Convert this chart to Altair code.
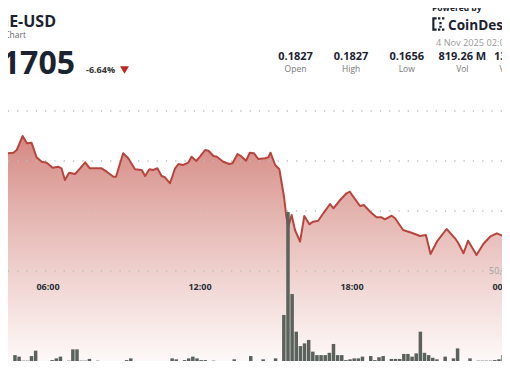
import altair as alt
import pandas as pd

# ---------------- data ----------------
price_times = ["04:06","04:13","04:22","04:38","04:46","05:00","05:10","05:21","05:33","05:45",
               "05:57","06:11","06:24","06:32","06:40","06:50","07:04","07:16","07:28","07:39",
               "08:07","08:19","08:35","08:41","08:58","09:10","09:26","09:42","09:50","10:00",
               "10:09","10:19","10:29","10:37","10:49","11:01","11:09","11:20","11:32","11:40",
               "11:51","12:00","12:12","12:20","12:32","12:40","12:55","13:09","13:17","13:29",
               "13:39","13:49","13:58","14:08","14:18","14:34","14:42","14:47","14:58","15:08",
               "15:13","15:19","15:24","15:29","15:37","15:45","15:57","16:07","16:13","16:19",
               "16:28","16:40","16:52","17:08","17:16","17:32","17:47","17:55","18:03","18:19",
               "18:28","18:43","18:58","19:10","19:18","19:34","19:42","20:01","20:21","20:41",
               "20:55","21:06","21:21","21:44","22:04","22:12","22:24","22:35","22:55","23:11",
               "23:27","23:43","23:58","00:10","00:19"]
price_values = [0.17493,0.17493,0.17577,0.17583,0.17610,0.17750,0.17677,0.17683,0.17537,0.17493,
                0.17483,0.17433,0.17443,0.17427,0.17310,0.17383,0.17370,0.17427,0.17487,0.17427,
                0.17427,0.17393,0.17343,0.17343,0.17577,0.17527,0.17417,0.17410,0.17350,0.17417,
                0.17410,0.17427,0.17350,0.17337,0.17277,0.17427,0.17470,0.17460,0.17483,0.17543,
                0.17500,0.17543,0.17610,0.17603,0.17550,0.17543,0.17493,0.17470,0.17477,0.17570,
                0.17543,0.17503,0.17583,0.17577,0.17520,0.17527,0.17537,0.17583,0.17460,0.17417,
                0.17290,0.17140,0.16960,0.16840,0.16960,0.16810,0.16693,0.16950,0.16910,0.16867,
                0.16893,0.16903,0.16977,0.17070,0.17027,0.17110,0.17177,0.17193,0.17143,0.17050,
                0.17060,0.16993,0.16937,0.16937,0.16917,0.16953,0.16927,0.16810,0.16783,0.16750,
                0.16760,0.16570,0.16693,0.16820,0.16727,0.16677,0.16577,0.16703,0.16560,0.16670,
                0.16743,0.16777,0.16750,0.16660,0.16610]

vol_first_bar = "04:30"     # first visible 10-minute volume bar
vol_step_minutes = 10
volumes_m = [6.2,5.4,3.3,3.3,5.7,8.5,2.8,2.8,2.4,3.6,
             4.5,5.4,2.2,3.3,9.2,9.2,3.3,3.3,4.2,2.8,
             3.3,1.9,1.4,1.4,1.4,1.4,3.1,3.6,4.5,2.8,
             2.4,1.4,1.0,1.6,1.6,2.2,2.4,2.8,4.5,4.0,
             1.9,3.6,4.5,5.4,4.5,3.6,3.6,1.9,3.3,1.9,
             2.2,1.9,2.2,4.0,3.1,2.8,2.6,5.7,2.8,2.8,
             4.0,2.8,2.8,4.5,2.8,27.1,80.7,38.0,18.4,10.9,
             12.3,14.1,8.0,6.2,6.2,6.2,7.4,12.0,6.2,6.2,
             3.6,4.0,4.5,4.5,5.4,2.8,5.7,3.6,5.1,5.7,
             3.1,4.2,4.2,4.2,6.8,6.8,5.4,7.1,18.4,7.4,
             6.2,4.8,4.0,2.8,5.4,2.8,4.5,9.7,1.9,1.9,
             4.5,3.1,3.3,3.3,3.3,3.3,3.6,4.0,6.2]

price_grid = [0.170, 0.175, 0.180]
vol_grid_m = [50]
vol_grid_labels = ["50,000,000"]
axis_times = ["06:00", "12:00", "18:00", "00:00"]

symbol_name = "DOGE-USD"
subtitle = "24 Hour Chart"
last_price = "0.1705"
change_pct = "-6.64%"
stat_values = ["0.1827", "0.1827", "0.1656", "819.26 M", "139.53 M"]
stat_labels = ["Open", "High", "Low", "Vol", "Vol (USD)"]
powered_by = "Powered by"
brand = "CoinDesk Indices"
timestamp = "4 Nov 2025 02:00 UTC"

# ---------------- helpers ----------------
def to_hours(s):
    h, m = map(int, s.split(":"))
    v = h + m / 60
    return v + 24 if v < 4 else v

W, H = 494, 353
FONT = "Open Sans"
DARK = "#1b2331"

price_df = pd.DataFrame({"t": [to_hours(s) for s in price_times], "p": price_values})
vol_df = pd.DataFrame({
    "t": [to_hours(vol_first_bar) + i * vol_step_minutes / 60 for i in range(len(volumes_m))],
    "v": volumes_m,
})
axis_df = pd.DataFrame({"t": [to_hours(s) for s in axis_times], "label": axis_times})
pgrid_df = pd.DataFrame({"p": price_grid})
vgrid_df = pd.DataFrame({"v": vol_grid_m, "label": vol_grid_labels})
stats_df = pd.DataFrame({"value": stat_values, "label": stat_labels})
stats_df["px"] = [287.5 + i * 55.6 for i in range(len(stats_df))]

# white fade bands (styling only): vertical fade of the area fill
FADE_TOP, FADE_BOTTOM, STEP = 128, 360, 2
fade_rows = []
for y0 in range(FADE_TOP, FADE_BOTTOM, STEP):
    frac = (y0 + STEP / 2 - FADE_TOP) / (FADE_BOTTOM - FADE_TOP)
    fade_rows.append({"y0": y0, "y1": y0 + STEP, "o": min(0.97, 0.97 * frac ** 0.85)})
fade_df = pd.DataFrame(fade_rows)

x_scale = alt.Scale(domain=[4.4211, 23.9211], range=[0, W], nice=False, zero=False)
p_scale = alt.Scale(domain=[0.170, 0.180], range=[203, 103], nice=False, zero=False)
v_scale = alt.Scale(domain=[0, 50], range=[359, 263], nice=False)

X = lambda f: alt.X(f, type="quantitative", scale=x_scale, axis=None)
YP = lambda f: alt.Y(f, type="quantitative", scale=p_scale, axis=None)
YV = lambda f: alt.Y(f, type="quantitative", scale=v_scale, axis=None)

area = alt.Chart(price_df).mark_area(clip=True, color="#d4867f", opacity=1).encode(
    x=X("t"), y=YP("p"), y2=alt.value(359))

fade = alt.Chart(fade_df).mark_rect(color="white", clip=True, strokeWidth=0).encode(
    x=alt.value(0), x2=alt.value(W),
    y=alt.Y("y0:Q", scale=None, axis=None), y2="y1:Q",
    opacity=alt.Opacity("o:Q", scale=None, legend=None))

pgrid = alt.Chart(pgrid_df).mark_rule(
    color="#bdbdbd", strokeDash=[1.3, 8], strokeWidth=1.3, clip=True).encode(y=YP("p"))
vgrid = alt.Chart(vgrid_df).mark_rule(
    color="#bdbdbd", strokeDash=[1.3, 8], strokeWidth=1.3, clip=True).encode(y=YV("v"))
vgrid_label = alt.Chart(vgrid_df).mark_text(
    align="left", baseline="middle", font=FONT, fontSize=9, color="#a3a3a3", clip=True
).encode(x=alt.value(481), y=YV("v"), text="label:N")

line = alt.Chart(price_df).mark_line(
    clip=True, color="#b8453d", strokeWidth=2, strokeJoin="round").encode(x=X("t"), y=YP("p"))

bars = alt.Chart(vol_df).mark_bar(size=3.5, color="#59625b", clip=True).encode(
    x=X("t"), y=YV("v"))

xlabels = alt.Chart(axis_df).mark_text(
    font=FONT, fontSize=9, fontWeight="bold", color="#2a2f38", baseline="middle", clip=True
).encode(x=X("t"), y=alt.value(279), text="label:N")

def txt(s, x, y, size, color=DARK, weight="normal", align="left"):
    return alt.Chart(pd.DataFrame({"s": [s]})).mark_text(
        font=FONT, fontSize=size, fontWeight=weight, color=color, align=align,
        baseline="alphabetic", clip=True
    ).encode(x=alt.value(x), y=alt.value(y), text="s:N")

t_symbol = txt(symbol_name, 48, 19, 16, weight="bold", align="right")
t_sub = txt(subtitle, 18, 29.5, 8.5, color="#666666", align="right")
t_price = txt(last_price, 67, 65.5, 32, weight="bold", align="right")
t_change = txt(change_pct, 78, 65, 9, color="#333333", weight="bold")
tri = alt.Chart(pd.DataFrame({"s": [change_pct]})).mark_point(
    shape="triangle-down", filled=True, size=80, color="#c0261f", opacity=1, clip=True
).encode(x=alt.value(116.5), y=alt.value(62))

stat_val = alt.Chart(stats_df).mark_text(
    font=FONT, fontSize=11, fontWeight="bold", color=DARK, baseline="alphabetic", clip=True
).encode(x=alt.X("px:Q", scale=None, axis=None), y=alt.value(52), text="value:N")
stat_lab = alt.Chart(stats_df).mark_text(
    font=FONT, fontSize=8.5, color="#777777", baseline="alphabetic", clip=True
).encode(x=alt.X("px:Q", scale=None, axis=None), y=alt.value(63.7), text="label:N")

t_powered = txt(powered_by, 424, 2.5, 8.5, weight="bold")
logo_path = ("M-1,-1H-0.35V-0.68H-0.68V0.68H-0.35V1H-1Z "
             "M-0.15,-1H0.2V-0.68H-0.15Z M0.45,-1H0.8V-0.68H0.45Z "
             "M0.05,-0.3H0.4V0.05H0.05Z M0.05,0.25H0.4V0.55H0.05Z "
             "M-0.15,0.68H0.2V1H-0.15Z M0.45,0.68H0.8V1H0.45Z")
logo = alt.Chart(pd.DataFrame({"s": [brand]})).mark_point(
    shape=logo_path, filled=True, size=180, color=DARK, opacity=1, clip=True
).encode(x=alt.value(431), y=alt.value(16))
t_brand = txt(brand, 440, 21.5, 13.6, weight="bold")
t_time = txt(timestamp, 428, 38, 9.2, color="#9a9a9a")

chart = alt.layer(
    area, fade, pgrid, vgrid, line, bars, vgrid_label, xlabels,
    t_symbol, t_sub, t_price, t_change, tri,
    stat_val, stat_lab, t_powered, logo, t_brand, t_time,
).resolve_scale(x="independent", y="independent", opacity="independent").properties(
    width=W, height=H, padding=0, background="white",
    autosize=alt.AutoSizeParams(type="none"),
).configure_view(stroke=None)

chart.save("out.html", embed_options={"renderer": "svg", "actions": False})
